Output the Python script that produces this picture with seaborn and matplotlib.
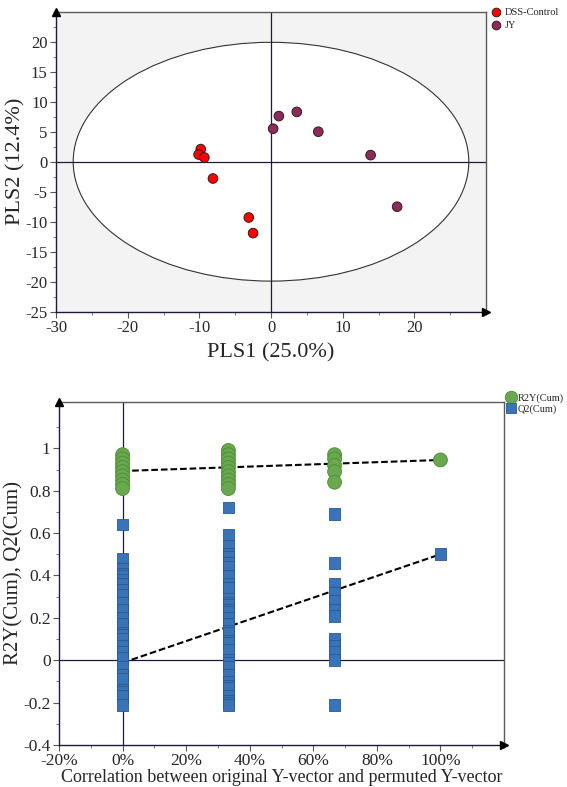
import numpy as np
import pandas as pd
import matplotlib
matplotlib.use("Agg")
import matplotlib.pyplot as plt
from matplotlib.patches import Ellipse
from matplotlib.ticker import MultipleLocator, AutoMinorLocator, FuncFormatter
import seaborn as sns

# ---- PLS-DA score data ----
dss_x = [-9.8, -10.1, -9.3, -8.1, -3.1, -2.5]
dss_y = [2.1, 1.2, 0.7, -2.8, -9.3, -11.9]
jy_x = [0.3, 1.1, 3.6, 6.6, 13.9, 17.6]
jy_y = [5.5, 7.6, 8.3, 5.0, 1.1, -7.5]
group_names = ["DSS-Control", "JY"]
ellipse_half_axes = [27.6, 19.9]   # Hotelling T2 ellipse semi-axes

# ---- permutation test data ----
perm_corr = [0.0, 0.333, 0.667, 1.0]
r2_c0 = [0.97, 0.95, 0.93, 0.91, 0.89, 0.87, 0.85, 0.83, 0.81]
r2_c1 = [0.99, 0.97, 0.95, 0.93, 0.91, 0.89, 0.87, 0.85, 0.83, 0.81]
r2_c2 = [0.97, 0.95, 0.92, 0.89, 0.84]
r2_c3 = [0.945]
q2_c0 = [0.64, 0.48, 0.43, 0.41, 0.40, 0.38, 0.36, 0.33, 0.31, 0.27, 0.24, 0.20,
         0.17, 0.13, 0.12, 0.10, 0.07, 0.04, 0.01, -0.03, -0.07, -0.09, -0.14,
         -0.15, -0.17, -0.21]
q2_c1 = [0.72, 0.59, 0.54, 0.50, 0.49, 0.46, 0.44, 0.40, 0.36, 0.34, 0.34, 0.29,
         0.27, 0.26, 0.24, 0.23, 0.20, 0.17, 0.14, 0.13, 0.09, 0.09, 0.08, 0.05,
         0.00, -0.01, -0.03, -0.07, -0.10, -0.12, -0.13, -0.17, -0.19, -0.20, -0.21]
q2_c2 = [0.69, 0.46, 0.36, 0.32, 0.28, 0.24, 0.21, 0.10, 0.07, 0.04, 0.00, -0.21]
q2_c3 = [0.50]
r2_intercept = 0.893
q2_intercept = -0.012
series_names = ["R2Y(Cum)", "Q2(Cum)"]

# ---- style ----
sns.set_theme(style="white")
plt.rcParams["font.family"] = ["Liberation Serif", "DejaVu Serif"]
plt.rcParams["axes.unicode_minus"] = False

W, H = 567, 787
fig = plt.figure(figsize=(W / 100, H / 100), dpi=100)

axis_col = "#1b1b3a"
frame_col = "#5a5a5a"


def style_axes(ax, tick_size):
    for side in ("left", "bottom"):
        ax.spines[side].set_color(axis_col)
        ax.spines[side].set_linewidth(1.0)
    for side in ("top", "right"):
        ax.spines[side].set_color(frame_col)
        ax.spines[side].set_linewidth(1.0)
    ax.tick_params(which="major", direction="out", length=4, width=0.8,
                   color="#555555", labelsize=tick_size, pad=2,
                   bottom=True, left=True, top=False, right=False)
    ax.tick_params(which="minor", direction="out", length=2.5, width=0.7,
                   color="#777777", bottom=True, left=True, top=False, right=False)
    # arrow heads at the ends of the axes
    ax.plot(0, 1, marker="^", markersize=5.5, color="black", transform=ax.transAxes,
            clip_on=False, zorder=10)
    ax.plot(1, 0, marker=">", markersize=5.5, color="black", transform=ax.transAxes,
            clip_on=False, zorder=10)


# ================= score plot =================
ax1 = fig.add_axes([56 / W, 1 - 311.7 / H, 430 / W, 300 / H])
ax1.set_facecolor("#f3f3f3")
ax1.add_patch(Ellipse((0, 0), 2 * ellipse_half_axes[0], 2 * ellipse_half_axes[1],
                      facecolor="white", edgecolor="#333333", linewidth=0.8, zorder=1))
ax1.axhline(0, color=axis_col, linewidth=0.9, zorder=2)
ax1.axvline(0, color=axis_col, linewidth=0.9, zorder=2)

scores = pd.DataFrame({
    "PLS1": dss_x + jy_x,
    "PLS2": dss_y + jy_y,
    "Group": [group_names[0]] * len(dss_x) + [group_names[1]] * len(jy_x),
})
sns.scatterplot(data=scores, x="PLS1", y="PLS2", hue="Group",
                palette={group_names[0]: "#ff0000", group_names[1]: "#8b2c5c"},
                s=48, edgecolor="#3a1a1a", linewidth=0.7, ax=ax1, zorder=5)
ax1.set_xlim(-30, 30)
ax1.set_ylim(-25, 25)
ax1.set_xticks([-30, -20, -10, 0, 10, 20])
ax1.xaxis.set_minor_locator(AutoMinorLocator(2))
ax1.set_yticks([-25, -20, -15, -10, -5, 0, 5, 10, 15, 20])
ax1.yaxis.set_minor_locator(AutoMinorLocator(2))
style_axes(ax1, 12)
ax1.set_xlabel("PLS1 (25.0%)", fontsize=16, labelpad=5)
ax1.set_ylabel("PLS2 (12.4%)", fontsize=16, labelpad=0)
sns.move_legend(ax1, "upper left", bbox_to_anchor=(1.012, 1.012), frameon=False,
                title=None, fontsize=7.5, handletextpad=0.3, borderpad=0,
                borderaxespad=0, labelspacing=0.35, markerscale=0.9, handlelength=1.0)

# ================= permutation plot =================
ax2 = fig.add_axes([59 / W, 1 - 745 / H, 445 / W, 343.3 / H])
ax2.set_facecolor("white")
ax2.axhline(0, color=axis_col, linewidth=0.9, zorder=2)
ax2.axvline(0, color=axis_col, linewidth=0.9, zorder=2)

r2_cols = [r2_c0, r2_c1, r2_c2, r2_c3]
q2_cols = [q2_c0, q2_c1, q2_c2, q2_c3]
rows = []
for xc, vals in zip(perm_corr, r2_cols):
    rows += [(xc, v, series_names[0]) for v in vals]
for xc, vals in zip(perm_corr, q2_cols):
    rows += [(xc, v, series_names[1]) for v in vals]
perm = pd.DataFrame(rows, columns=["corr", "value", "series"])

# regression lines from intercept to the original model
ax2.plot([0, perm_corr[-1]], [r2_intercept, r2_c3[0]], color="black",
         linestyle=(0, (3.2, 1.4)), linewidth=1.5, zorder=3)
ax2.plot([0, perm_corr[-1]], [q2_intercept, q2_c3[0]], color="black",
         linestyle=(0, (3.2, 1.4)), linewidth=1.5, zorder=3)

sns.scatterplot(data=perm[perm.series == series_names[0]], x="corr", y="value",
                hue="series", palette={series_names[0]: "#6aa84f"}, marker="o",
                s=100, edgecolor="#4f8a3a", linewidth=0.6, ax=ax2, zorder=5)
sns.scatterplot(data=perm[perm.series == series_names[1]], x="corr", y="value",
                hue="series", palette={series_names[1]: "#3a74b8"}, marker="s",
                s=70, edgecolor="#2a5890", linewidth=0.6, ax=ax2, zorder=5)

ax2.set_xlim(-0.2, 1.2)
ax2.set_ylim(-0.4, 1.22)
ax2.set_xticks([-0.2, 0, 0.2, 0.4, 0.6, 0.8, 1.0])
ax2.xaxis.set_minor_locator(AutoMinorLocator(2))
ax2.xaxis.set_major_formatter(FuncFormatter(lambda v, p: f"{v * 100:.0f}%"))
ax2.set_yticks([-0.4, -0.2, 0, 0.2, 0.4, 0.6, 0.8, 1.0])
ax2.yaxis.set_major_formatter(FuncFormatter(lambda v, p: f"{v:g}"))
ax2.yaxis.set_minor_locator(AutoMinorLocator(2))
style_axes(ax2, 12.5)
ax2.set_xlabel("Correlation between original Y-vector and permuted Y-vector",
               fontsize=13, labelpad=0)
ax2.set_ylabel("R2Y(Cum), Q2(Cum)", fontsize=15, labelpad=0)
sns.move_legend(ax2, "upper left", bbox_to_anchor=(1.005, 1.025), frameon=False,
                title=None, fontsize=7.5, handletextpad=0.1, borderpad=0,
                borderaxespad=0, labelspacing=0.15, markerscale=0.9, handlelength=1.0)

fig.savefig("out.png", dpi=100)
